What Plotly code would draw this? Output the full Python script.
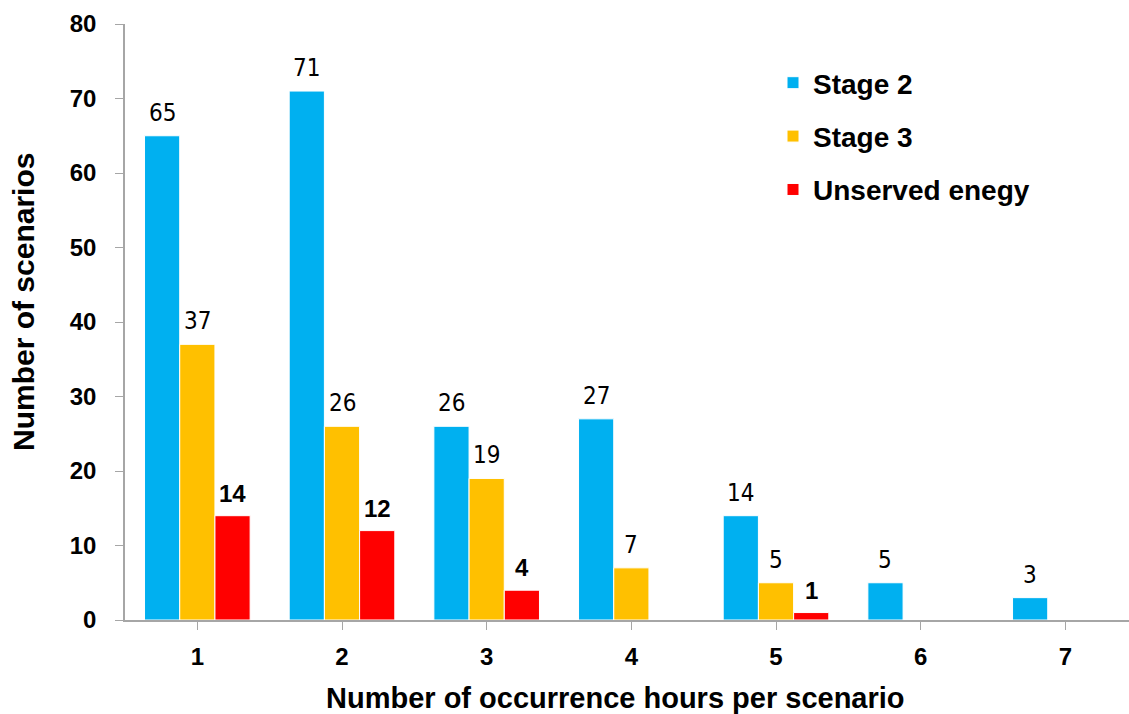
import plotly.graph_objects as go

hours = [1, 2, 3, 4, 5, 6, 7]
stage2 = [65, 71, 26, 27, 14, 5, 3]
stage3 = [37, 26, 19, 7, 5, None, None]
unserved = [14, 12, 4, None, 1, None, None]

BARGAP = 0.27
NARROW = "DejaVu Sans Condensed, Liberation Sans Narrow, Roboto, sans-serif"
BOLD = dict(family="Liberation Sans, Arial, sans-serif", color="black", weight="bold")

series = [
    ("Stage 2", stage2, "#00B0F0", dict(family=NARROW, size=24, color="black")),
    ("Stage 3", stage3, "#FFC000", dict(family=NARROW, size=24, color="black")),
    ("Unserved enegy", unserved, "#FF0000", dict(BOLD, size=24)),
]

fig = go.Figure()
bar_w = (1 - BARGAP) / len(series)
for i, (name, vals, color, tfont) in enumerate(series):
    fig.add_trace(go.Bar(
        x=hours, y=vals, name=name, legendgroup=str(i),
        marker=dict(color=color, line=dict(color="white", width=1)),
    ))
    # value labels above each bar of this series
    offset = (i - (len(series) - 1) / 2) * bar_w
    for h, v in zip(hours, vals):
        if v is None:
            continue
        fig.add_annotation(
            x=h + offset, y=v, xref="x", yref="y", text=str(v),
            showarrow=False, yanchor="bottom", yshift=7, font=tfont,
        )

fig.add_annotation(
    text="Number of occurrence hours per scenario", xref="paper", yref="paper",
    x=(615 - 125) / 1004, y=-(698 - 620) / 596, xanchor="center", yanchor="middle",
    showarrow=False, font=dict(BOLD, size=29),
)
fig.add_annotation(
    text="Number of scenarios", xref="paper", yref="paper", textangle=-90,
    x=-(125 - 23) / 1004, y=(620 - 302) / 596, xanchor="center", yanchor="middle",
    showarrow=False, font=dict(BOLD, size=30),
)

fig.update_layout(
    width=1129, height=714,
    margin=dict(l=125, r=0, t=24, b=94),
    paper_bgcolor="white", plot_bgcolor="white",
    barmode="group", bargap=BARGAP, bargroupgap=0,
    font=dict(family="Liberation Sans", color="black"),
    legend=dict(
        x=(773 - 125) / 1004, y=0.943, xanchor="left", yanchor="top",
        traceorder="grouped", tracegroupgap=14,
        font=dict(BOLD, size=28),
        itemwidth=30, bgcolor="rgba(0,0,0,0)",
    ),
    xaxis=dict(
        range=[0.5, 7.44], tickmode="array", tickvals=hours,
        ticktext=[str(h) for h in hours], tickson="boundaries",
        ticks="outside", ticklen=8, tickcolor="#A6A6A6",
        showline=True, linecolor="#A6A6A6", linewidth=1.5,
        showgrid=False, zeroline=False, tickfont=dict(BOLD, size=24),
        ticklabelstandoff=6,
    ),
    yaxis=dict(
        range=[0, 80], dtick=10, ticks="outside", ticklen=8, tickcolor="#A6A6A6",
        showline=True, linecolor="#A6A6A6", linewidth=1.5,
        showgrid=False, zeroline=False, tickfont=dict(BOLD, size=24),
        ticklabelstandoff=14,
    ),
)

fig.write_html("out.html")
